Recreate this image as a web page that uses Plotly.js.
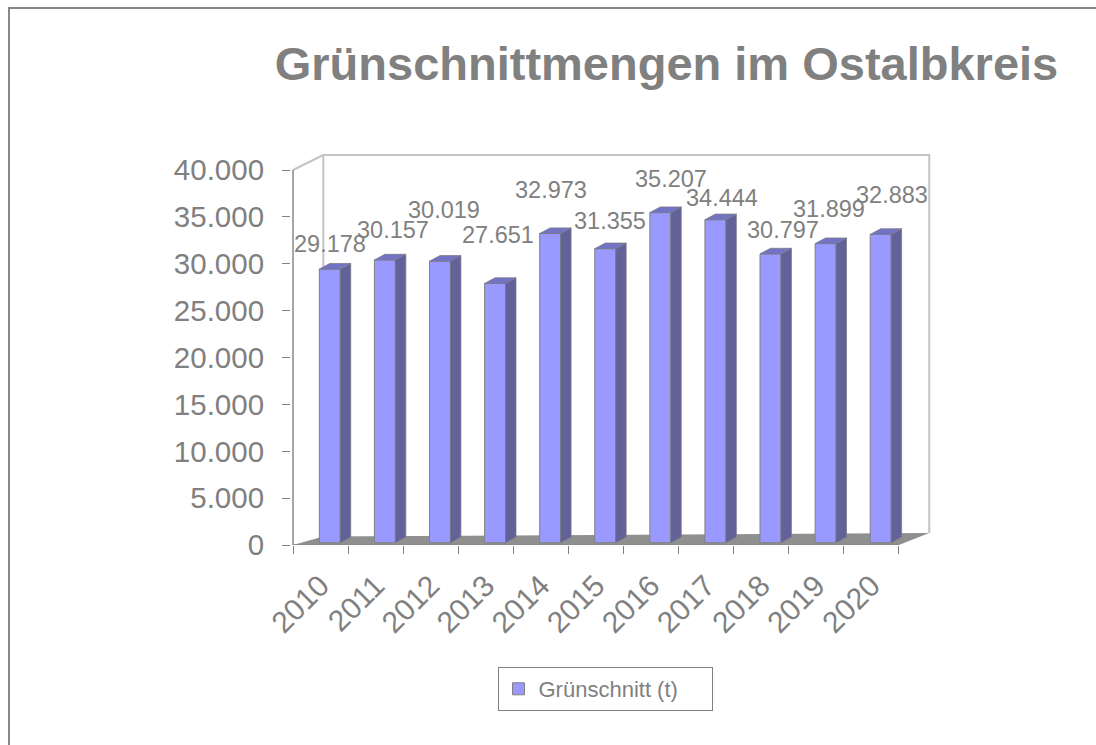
<!DOCTYPE html>
<html><head><meta charset="utf-8">
<script src="https://cdn.plot.ly/plotly-3.0.1.min.js"></script>
<style>
html,body{margin:0;padding:0;background:#fff;}
#wrap{position:relative;width:1096px;height:745px;overflow:hidden;}
#chart{position:absolute;left:0;top:0;width:1096px;height:745px;}
#frame{position:absolute;left:8px;top:7px;width:1200px;height:800px;border-top:2px solid #878787;border-left:2px solid #878787;pointer-events:none;}
</style></head><body>
<div id="wrap"><div id="chart"></div><div id="frame"></div></div>
<script>
// ---- data ----
const years = ['2010','2011','2012','2013','2014','2015','2016','2017','2018','2019','2020'];
const tons = [29178, 30157, 30019, 27651, 32973, 31355, 35207, 34444, 30797, 31899, 32883];
const yTickVals = [0, 5000, 10000, 15000, 20000, 25000, 30000, 35000, 40000];
const seriesName = 'Grünschnitt (t)';
const chartTitle = 'Grünschnittmengen im Ostalbkreis';

// ---- pseudo-3D layout constants (data units) ----
const Y_MAX = 40000;
const WALL_DX = 0.55, WALL_BOT_L = 900, WALL_BOT_R = 1280, WALL_TOP = 1600;
const BAR_W = 0.38, BAR_OFF = -0.022, BAR_BASE = 250, BAR_DDX = 0.19, BAR_DDY = 600;
// label nudges in pixels (Excel placed them by hand)
const labelDx = [9.5, 17.2, 13.3, 12.2, 10.2, 14.1, 19.6, 15.5, 21.3, 12.7, 20.1];
const labelDy = [27, 32.3, 53.6, 50.3, 45.9, 30, 36.2, 24.1, 26.3, 36.6, 41.7];

const GRAY = '#808080';
const FONT = 'Liberation Sans, Arial, sans-serif';
const fmt = v => v.toLocaleString('de-DE');
const P = pts => 'M' + pts.map(p => p[0] + ',' + p[1]).join(' L') + ' Z';

const n = years.length;
const xL = -0.5, xR = n - 0.5;
const shapes = [];
// floor
shapes.push({type:'path', xref:'x', yref:'y', layer:'below',
  path: P([[xL,0],[xR,0],[xR+WALL_DX,WALL_BOT_R],[xL+WALL_DX,WALL_BOT_L]]),
  fillcolor:'#8f8f8f', line:{width:0}});
// back wall edges
shapes.push({type:'path', xref:'x', yref:'y', layer:'below',
  path: 'M' + (xL+WALL_DX) + ',' + WALL_BOT_L + ' L' + (xL+WALL_DX) + ',' + (Y_MAX+WALL_TOP) +
        ' L' + (xR+WALL_DX) + ',' + (Y_MAX+WALL_TOP) + ' L' + (xR+WALL_DX) + ',' + WALL_BOT_R,
  line:{color:'#c4c4c4', width:2}});
// side wall top edge
shapes.push({type:'line', xref:'x', yref:'y', layer:'below',
  x0:xL, y0:Y_MAX, x1:xL+WALL_DX, y1:Y_MAX+WALL_TOP, line:{color:'#c4c4c4', width:2}});
// front axis lines
shapes.push({type:'line', xref:'x', yref:'y', layer:'above',
  x0:xL, y0:0, x1:xL, y1:Y_MAX, line:{color:'#8a8a8a', width:1.5}});
shapes.push({type:'line', xref:'x', yref:'y', layer:'below',
  x0:xL, y0:0, x1:xR, y1:0, line:{color:'#8a8a8a', width:1.5}});
// bar side and top faces
tons.forEach((v, i) => {
  const l = i + BAR_OFF, r = l + BAR_W, b = BAR_BASE, t = BAR_BASE + v;
  shapes.push({type:'path', xref:'x', yref:'y', layer:'above',
    path: P([[r,b],[r+BAR_DDX,b+BAR_DDY],[r+BAR_DDX,t+BAR_DDY],[r,t]]),
    fillcolor:'#626299', line:{color:'#7a7a8a', width:0.8}});
  shapes.push({type:'path', xref:'x', yref:'y', layer:'above',
    path: P([[l,t],[r,t],[r+BAR_DDX,t+BAR_DDY],[l+BAR_DDX,t+BAR_DDY]]),
    fillcolor:'#7373c6', line:{color:'#7a7a8a', width:0.8}});
});

const annotations = tons.map((v, i) => ({
  x: i, y: v, xref:'x', yref:'y', text: fmt(v), showarrow:false,
  xanchor:'center', yanchor:'middle', xshift: labelDx[i], yshift: labelDy[i],
  font:{family:FONT, size:23.5, color:GRAY}
}));

const trace = {
  type:'bar', name: seriesName, x: years, y: tons, base: BAR_BASE,
  width: BAR_W, offset: BAR_OFF,
  marker:{color:'#9999ff', line:{color:GRAY, width:1}},
  hoverinfo:'skip', showlegend:true
};

const pxPerUnitX = 55.1, pxPerUnitY = 375 / Y_MAX;
const plotLeft = 291, plotBottom = 545, plotTop = 151;
const xRange = [xL - 2 / pxPerUnitX, 11.1];
const plotW = (xRange[1] - xRange[0]) * pxPerUnitX;
const yTopVal = (plotBottom - plotTop) / pxPerUnitY;

const layout = {
  width:1096, height:745,
  paper_bgcolor:'rgba(0,0,0,0)', plot_bgcolor:'rgba(0,0,0,0)',
  separators: ',.',
  margin:{l:plotLeft, r:1096 - plotLeft - plotW, t:plotTop, b:745 - plotBottom, pad:0},
  title:{text: chartTitle, xref:'container', yref:'container', x: 666.5/1096, xanchor:'center',
         y: 1 - 64/745, yanchor:'middle',
         font:{family:FONT, size:47, color:GRAY, weight:'bold'}},
  xaxis:{type:'category', categoryorder:'array', categoryarray: years, range: xRange,
         tickson:'boundaries', ticks:'outside', ticklen:8, tickwidth:1, tickcolor:GRAY,
         tickangle:-45, ticklabelstandoff:16, tickfont:{family:FONT, size:30, color:GRAY},
         showline:false, showgrid:false, zeroline:false, fixedrange:true},
  yaxis:{range:[0, yTopVal], tickvals: yTickVals, tickformat:',.0f', ticks:'outside', ticklen:8,
         tickwidth:1, tickcolor:GRAY, ticklabelstandoff:12, tickfont:{family:FONT, size:29.5, color:GRAY},
         showline:false, showgrid:false, zeroline:false, fixedrange:true},
  showlegend:true,
  legend:{orientation:'h', xref:'container', yref:'container', x: 605/1096, xanchor:'center',
          y: 1 - 689/745, yanchor:'middle', bordercolor:GRAY, borderwidth:1, bgcolor:'#fff',
          entrywidth:168, font:{family:FONT, size:22, color:GRAY}},
  shapes, annotations
};

Plotly.newPlot('chart', [trace], layout, {displayModeBar:false, staticPlot:true});
</script>
</body></html>
